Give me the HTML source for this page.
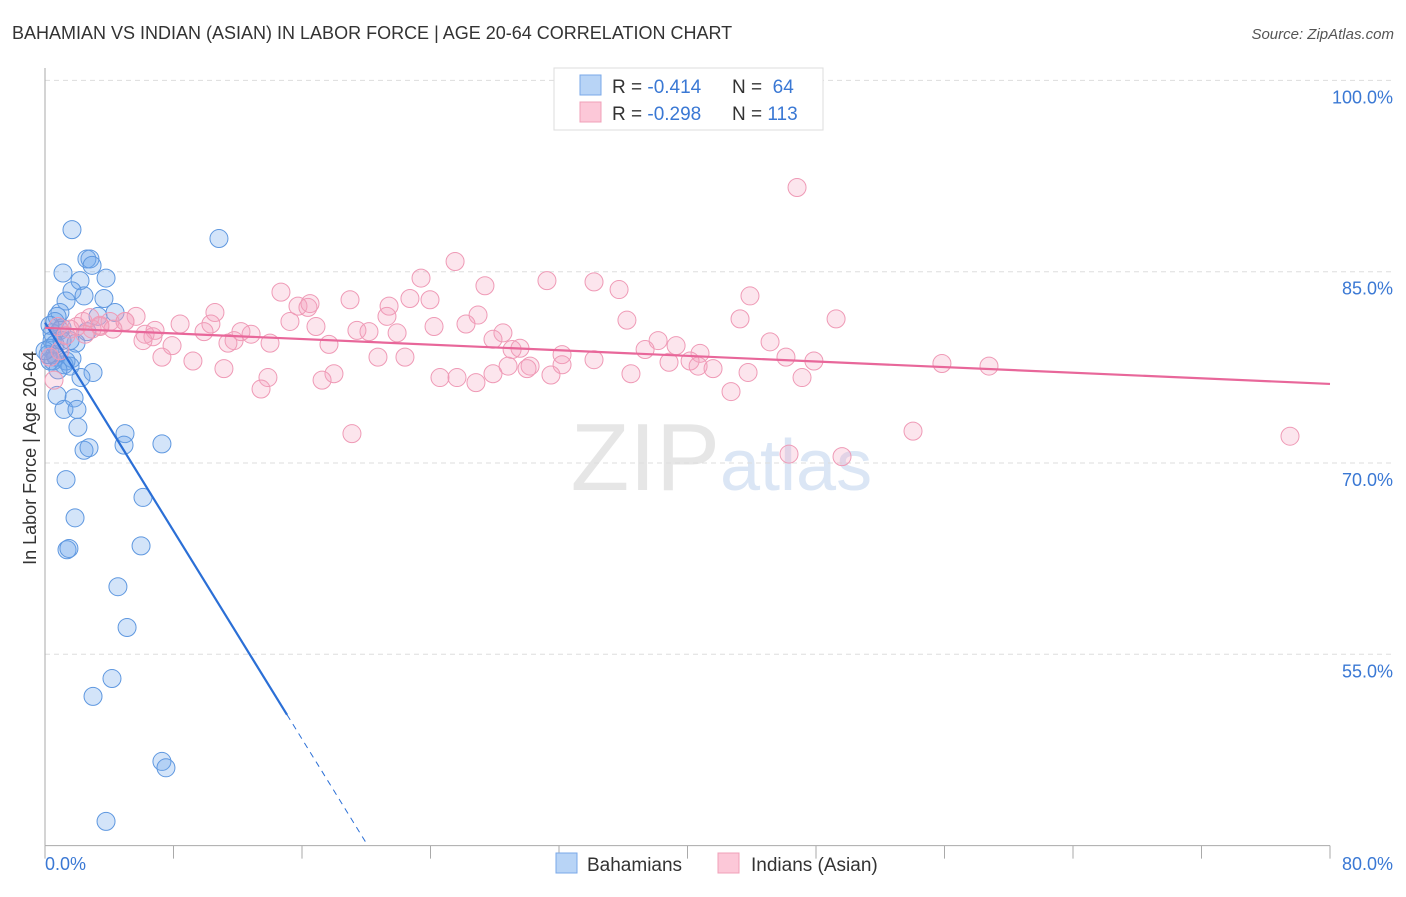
<!DOCTYPE html>
<html><head><meta charset="utf-8"><style>
body{margin:0;background:#fff;font-family:"Liberation Sans",sans-serif}
svg text{font-family:"Liberation Sans",sans-serif}
</style></head><body>
<svg width="1406" height="892">
<text x="12" y="39" font-size="18" fill="#333">BAHAMIAN VS INDIAN (ASIAN) IN LABOR FORCE | AGE 20-64 CORRELATION CHART</text>
<text x="1394" y="39" font-size="15" fill="#555" text-anchor="end" font-style="italic">Source: ZipAtlas.com</text>
<text x="720" y="490" font-size="96" fill="#e6e6e6" text-anchor="end" font-family="Liberation Serif">ZIP</text>
<text x="720" y="490" font-size="72" fill="#dbe6f5">atlas</text>
<g id="grid"></g><g id="axes"></g><g id="pts"></g><g id="lines"></g>
<text x="36" y="458" font-size="18" fill="#333" text-anchor="middle" transform="rotate(-90 36 458)">In Labor Force | Age 20-64</text>
<text x="45" y="870" font-size="18" fill="#3a78d4">0.0%</text>
<text x="1393" y="870" font-size="18" fill="#3a78d4" text-anchor="end">80.0%</text>
<g>
<rect x="554" y="68" width="269" height="62" fill="#fff" stroke="#ddd"/>
<rect x="580" y="75" width="21" height="20" fill="#b8d4f6" stroke="#7aa8e8"/>
<rect x="580" y="102" width="21" height="20" fill="#fcc8d8" stroke="#f0a0b8"/>
<text x="612" y="93" font-size="19" fill="#333">R = <tspan fill="#3a78d4">-0.414</tspan><tspan x="732">N = </tspan><tspan fill="#3a78d4">&#160;64</tspan></text>
<text x="612" y="120" font-size="19" fill="#333">R = <tspan fill="#3a78d4">-0.298</tspan><tspan x="732">N = </tspan><tspan fill="#3a78d4">113</tspan></text>
</g>
<g>
<rect x="556" y="853" width="21" height="20" fill="#b8d4f6" stroke="#7aa8e8"/>
<text x="587" y="871" font-size="19" fill="#333">Bahamians</text>
<text x="751" y="871" font-size="19" fill="#333">Indians (Asian)</text>
<rect x="718" y="853" width="21" height="20" fill="#fcc8d8" stroke="#f0a0b8"/>
</g>
</svg>
<script>
const yTicks=[100,85,70,55];
const xTicks=[0,8,16,24,32,40,48,56,64,72,80];
const blueX=[1.68,10.83,2.61,2.80,2.93,1.12,3.80,2.18,1.68,2.43,1.31,3.67,4.36,0.93,0.75,3.30,0.62,1.06,2.61,0.44,1.93,0.44,0.31,0.68,1.68,1.31,1.18,1.56,2.99,2.24,0.62,0.31,0.75,1.81,1.18,1.99,2.05,4.98,4.92,7.28,2.43,2.74,1.31,6.10,1.87,1.37,1.49,5.98,4.54,5.11,4.17,2.99,7.28,7.53,3.80,0.93,0.62,0.50,0.19,0.81,1.56,1.06,0,0.31];
const blueY=[88.3,87.6,86.0,86.0,85.5,84.9,84.5,84.3,83.5,83.1,82.7,82.9,81.8,81.8,81.5,81.5,81.1,80.6,80.3,80.2,79.4,79.6,79.0,78.3,78.2,78.0,77.7,77.6,77.1,76.7,78.5,78.0,75.3,75.1,74.2,74.2,72.8,72.3,71.4,71.5,71.0,71.2,68.7,67.3,65.7,63.2,63.3,63.5,60.3,57.1,53.1,51.7,46.6,46.1,41.9,80.4,79.3,78.0,78.5,77.3,79.6,79.6,78.8,80.8];
const pinkX=[46.82,25.53,23.41,31.25,34.18,27.39,14.69,35.74,43.89,22.72,23.97,18.99,15.75,16.37,21.42,16.50,10.58,5.67,21.29,26.96,49.25,36.23,43.27,15.25,16.87,26.21,24.22,10.33,19.42,12.20,20.17,21.92,28.51,4.98,4.05,3.42,2.37,1.99,2.93,3.42,0.81,1.56,6.85,8.41,6.72,9.90,12.83,11.77,6.10,7.91,11.39,38.17,27.89,29.57,29.08,39.29,45.14,17.68,14.01,32.19,37.36,40.78,34.18,32.19,28.83,30.20,20.73,22.41,46.13,47.87,55.84,58.77,38.85,40.16,40.66,41.59,7.28,9.21,11.14,27.89,30.01,31.50,43.77,36.48,24.59,25.65,26.83,13.88,17.99,17.25,47.13,13.45,42.71,0.56,19.11,54.04,46.32,49.62,77.51,0.31,0.93,1.31,4.98,6.23,2.49,4.23,2.80];
const pinkY=[91.6,85.8,84.5,84.3,84.2,83.9,83.4,83.6,83.1,82.9,82.8,82.8,82.3,82.2,82.3,82.5,81.8,81.5,81.5,81.6,81.3,81.2,81.3,81.1,80.7,80.9,80.7,80.9,80.4,80.3,80.3,80.2,80.2,81.1,81.1,80.7,81.1,80.7,80.5,80.8,80.7,80.5,80.4,80.9,79.9,80.3,80.1,79.6,79.6,79.2,79.4,79.6,79.7,79.0,78.9,79.2,79.5,79.3,79.4,78.5,78.9,78.6,78.1,77.7,77.6,77.6,78.3,78.3,78.3,78.0,77.8,77.6,77.9,78.0,77.6,77.4,78.3,78.0,77.4,77.0,77.4,76.9,77.1,77.0,76.7,76.7,76.3,76.7,77.0,76.5,76.7,75.8,75.6,76.5,72.3,72.5,70.7,70.5,72.1,78.3,78.8,80.0,81.1,80.1,80.1,80.5,81.4];
const blueFit=[81.0,-2.04];
const pinkFit=[80.6,-0.055];
const NS="http://www.w3.org/2000/svg";
const X0=45,X1=1330,Y0=80.4,Y1=845.6;
function sx(v){return X0+v/80*(X1-X0);}
function sy(v){return Y0+(100-v)/60*(Y1-Y0);}
function mk(t,a,p){const e=document.createElementNS(NS,t);for(const k in a)e.setAttribute(k,a[k]);document.getElementById(p).appendChild(e);return e;}
yTicks.forEach((t,i)=>{
 const g=mk('line',{x1:X0,x2:1393,y1:sy(t),y2:sy(t),stroke:'#ddd','stroke-dasharray':'5,4'},'grid');
 
 
 const l=mk('text',{x:1393,y:sy(t)+23,'font-size':18,fill:'#3a78d4','text-anchor':'end'},'grid');
 l.textContent=t.toFixed(1)+'%';
 
 
});
const ya=mk('line',{x1:X0,x2:X0,y1:68,y2:Y1,stroke:'#aaa'},'axes');


const xa=mk('line',{x1:X0,x2:X1,y1:Y1,y2:Y1,stroke:'#aaa'},'axes');


xTicks.forEach(t=>{
 const k=mk('line',{x1:sx(t),x2:sx(t),y1:Y1,y2:Y1+13,stroke:'#aaa'},'axes');
 
 
});
blueX.forEach((v,i)=>{
 const c=mk('circle',{cx:sx(v),cy:sy(blueY[i]),r:9,fill:'rgba(110,165,235,0.3)',stroke:'#5f98e0','stroke-width':1},'pts');
 
 
});
pinkX.forEach((v,i)=>{
 const c=mk('circle',{cx:sx(v),cy:sy(pinkY[i]),r:9,fill:'rgba(245,160,190,0.28)',stroke:'#ef9ab6','stroke-width':1},'pts');
 
 
});
const bEnd=15.07,bZero=(40-blueFit[0])/blueFit[1];
const bl=mk('line',{x1:sx(0),y1:sy(blueFit[0]),x2:sx(bEnd),y2:sy(blueFit[0]+blueFit[1]*bEnd),stroke:'#2b6fd6','stroke-width':2.2},'lines');


const bd=mk('line',{x1:sx(bEnd),y1:sy(blueFit[0]+blueFit[1]*bEnd),x2:sx(bZero),y2:sy(40),stroke:'#2b6fd6','stroke-width':1,'stroke-dasharray':'6,5'},'lines');


const pl=mk('line',{x1:sx(0),y1:sy(pinkFit[0]),x2:sx(80),y2:sy(pinkFit[0]+pinkFit[1]*80),stroke:'#e8679a','stroke-width':2.2},'lines');


</script>
</body></html>
